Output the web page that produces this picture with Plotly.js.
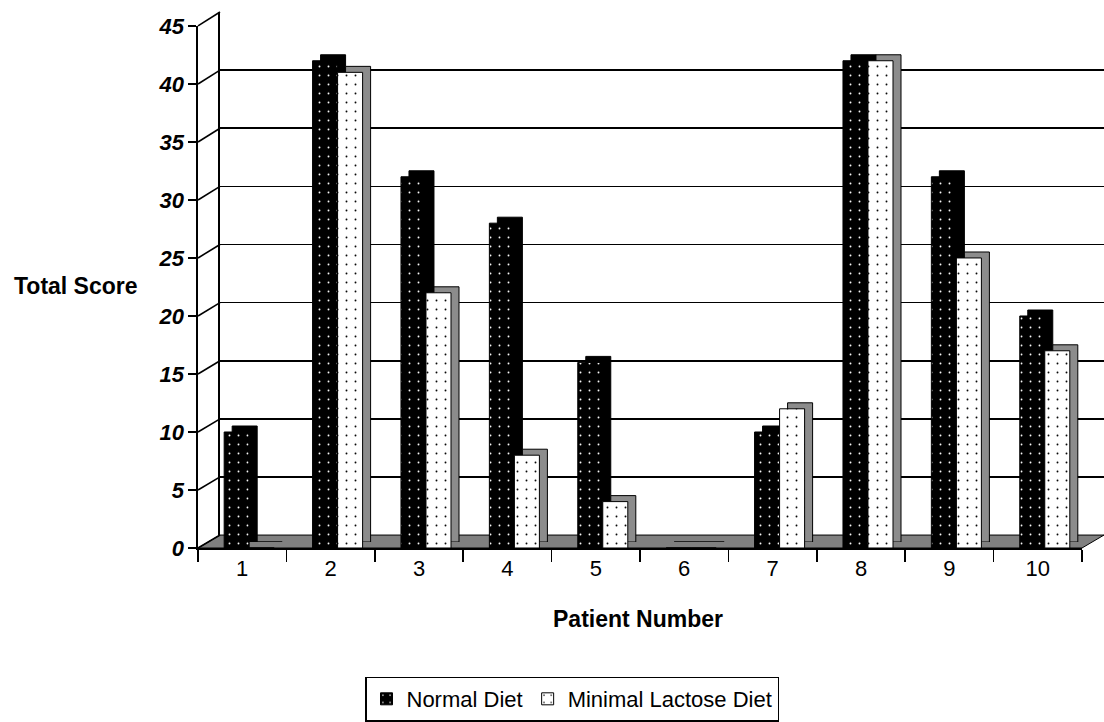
<!DOCTYPE html>
<html><head><meta charset="utf-8">
<script src="https://cdn.plot.ly/plotly-3.0.1.min.js"></script>
<style>html,body{margin:0;padding:0;background:#fff}#chart{width:1104px;height:722px}</style>
</head><body><div id="chart"></div>
<script>
const patients = ['1','2','3','4','5','6','7','8','9','10'];
const normalDiet = [10,42,32,28,16,0,10,42,32,20];
const minimalLactose = [0,41,22,8,4,0,12,42,25,17];
const yTickVals = [0,5,10,15,20,25,30,35,40,45];
const seriesNames = ['Normal Diet','Minimal Lactose Diet'];

const W = 1104, H = 722;
const mL = 198, mR = 0, mT = 12, mB = 172;
const pw = W - mL - mR, ph = H - mT - mB; // 906 x 538
const frontW = 884, frontH = 524;
const wallDx = 22, wallDy = 13;
const barDx = 8, barDy = 6;
const font = 'Liberation Sans, Arial, sans-serif';
const bw = 0.283, off1 = -0.204, off2 = off1 + bw;

const frontX = [0, frontW/pw];
const frontY = [0, frontH/ph];
const wallX = [wallDx/pw, 1];
const wallY = [wallDy/ph, (wallDy+frontH+1)/ph];
const backX = [barDx/pw, (barDx+frontW)/pw];
const backY = [barDy/ph, (barDy+frontH)/ph];

const traces = [
  {type:'scatter', x:[], y:[], xaxis:'x', yaxis:'y', showlegend:false, hoverinfo:'skip'},
  {type:'bar', x:patients, y:normalDiet, xaxis:'x2', yaxis:'y2', width:bw, offset:off1,
   marker:{color:'#000', line:{color:'#000', width:1}}, showlegend:false, hoverinfo:'skip'},
  {type:'bar', x:patients, y:minimalLactose, xaxis:'x2', yaxis:'y2', width:bw, offset:off2,
   marker:{color:'#8c8c8c', line:{color:'#000', width:1}}, showlegend:false, hoverinfo:'skip'},
  {type:'bar', name:seriesNames[0], x:patients, y:normalDiet, xaxis:'x3', yaxis:'y3', width:bw, offset:off1,
   marker:{color:'#000', line:{color:'#000', width:1},
     pattern:{shape:'.', fgcolor:'#ffffff', bgcolor:'#000000', fgopacity:1, size:9, solidity:0.035}}},
  {type:'bar', name:seriesNames[1], x:patients, y:minimalLactose, xaxis:'x3', yaxis:'y3', width:bw, offset:off2,
   marker:{color:'#fff', line:{color:'#000', width:1},
     pattern:{shape:'.', fgcolor:'#000000', bgcolor:'#ffffff', fgopacity:1, size:9, solidity:0.035}}}
];

const shapes = [];
shapes.push({type:'path', xref:'paper', yref:'paper', layer:'below',
  path:`M 0,0 L ${frontW/pw},0 L 1,${wallDy/ph} L ${wallDx/pw},${wallDy/ph} Z`,
  fillcolor:'#808080', line:{color:'#000', width:1}});
yTickVals.forEach(v => {
  const yf = v/45*frontH/ph;
  const yb = (wallDy + v/45*(frontH+1))/ph;
  shapes.push({type:'line', xref:'paper', yref:'paper', x0:0, y0:yf, x1:wallDx/pw, y1:yb,
    line:{color:'#000', width:1.6}});
});

const hidden = {showgrid:false, showticklabels:false, showline:false, zeroline:false, ticks:''};

const layout = {
  width:W, height:H, margin:{l:mL, r:mR, t:mT, b:mB, pad:0},
  paper_bgcolor:'#fff', plot_bgcolor:'rgba(0,0,0,0)',
  barmode:'overlay', showlegend:true,
  font:{family:font, color:'#000'},
  xaxis:Object.assign({domain:wallX, anchor:'y', range:[0,1]}, hidden),
  yaxis:{domain:wallY, anchor:'x', range:[0,45], tickvals:yTickVals, showgrid:true, gridcolor:'#000', gridwidth:1.6,
         showline:true, mirror:true, linecolor:'#000', linewidth:1.6, showticklabels:false, zeroline:false, ticks:''},
  xaxis2:Object.assign({domain:backX, anchor:'y2', type:'category', range:[-0.5,9.5]}, hidden),
  yaxis2:Object.assign({domain:backY, anchor:'x2', range:[0,45]}, hidden),
  xaxis3:{domain:frontX, anchor:'y3', type:'category', range:[-0.5,9.5], showgrid:false, zeroline:false,
          showline:true, linecolor:'#000', linewidth:1.6, ticks:'outside', tickson:'boundaries', ticklen:12,
          tickcolor:'#000', tickwidth:1.6, tickfont:{family:font, size:22, color:'#000'}},
  yaxis3:{domain:frontY, anchor:'x3', range:[0,45], tickvals:yTickVals, showgrid:false, zeroline:false,
          showline:true, linecolor:'#000', linewidth:1.6, ticks:'outside', ticklen:8, tickcolor:'#000', tickwidth:1.6,
          tickfont:{family:font, size:22, color:'#000', weight:'bold', style:'italic'}},
  legend:{orientation:'h', x:(572-mL)/pw, xanchor:'center', y:(H-mB-679)/ph, yanchor:'top',
          bgcolor:'#fff', bordercolor:'#000', borderwidth:1.5, font:{family:font, size:22, color:'#000'},
          itemwidth:30, tracegroupgap:0},
  annotations:[
    {text:'Total Score', xref:'paper', yref:'paper', x:(76-mL)/pw, y:(H-mB-287)/ph, xanchor:'center', yanchor:'middle',
     showarrow:false, font:{family:font, size:23, color:'#000', weight:'bold'}},
    {text:'Patient Number', xref:'paper', yref:'paper', x:(638-mL)/pw, y:(H-mB-621)/ph, xanchor:'center', yanchor:'middle',
     showarrow:false, font:{family:font, size:23, color:'#000', weight:'bold'}}
  ],
  shapes:shapes
};

Plotly.newPlot('chart', traces, layout, {displayModeBar:false, staticPlot:true});
</script></body></html>
